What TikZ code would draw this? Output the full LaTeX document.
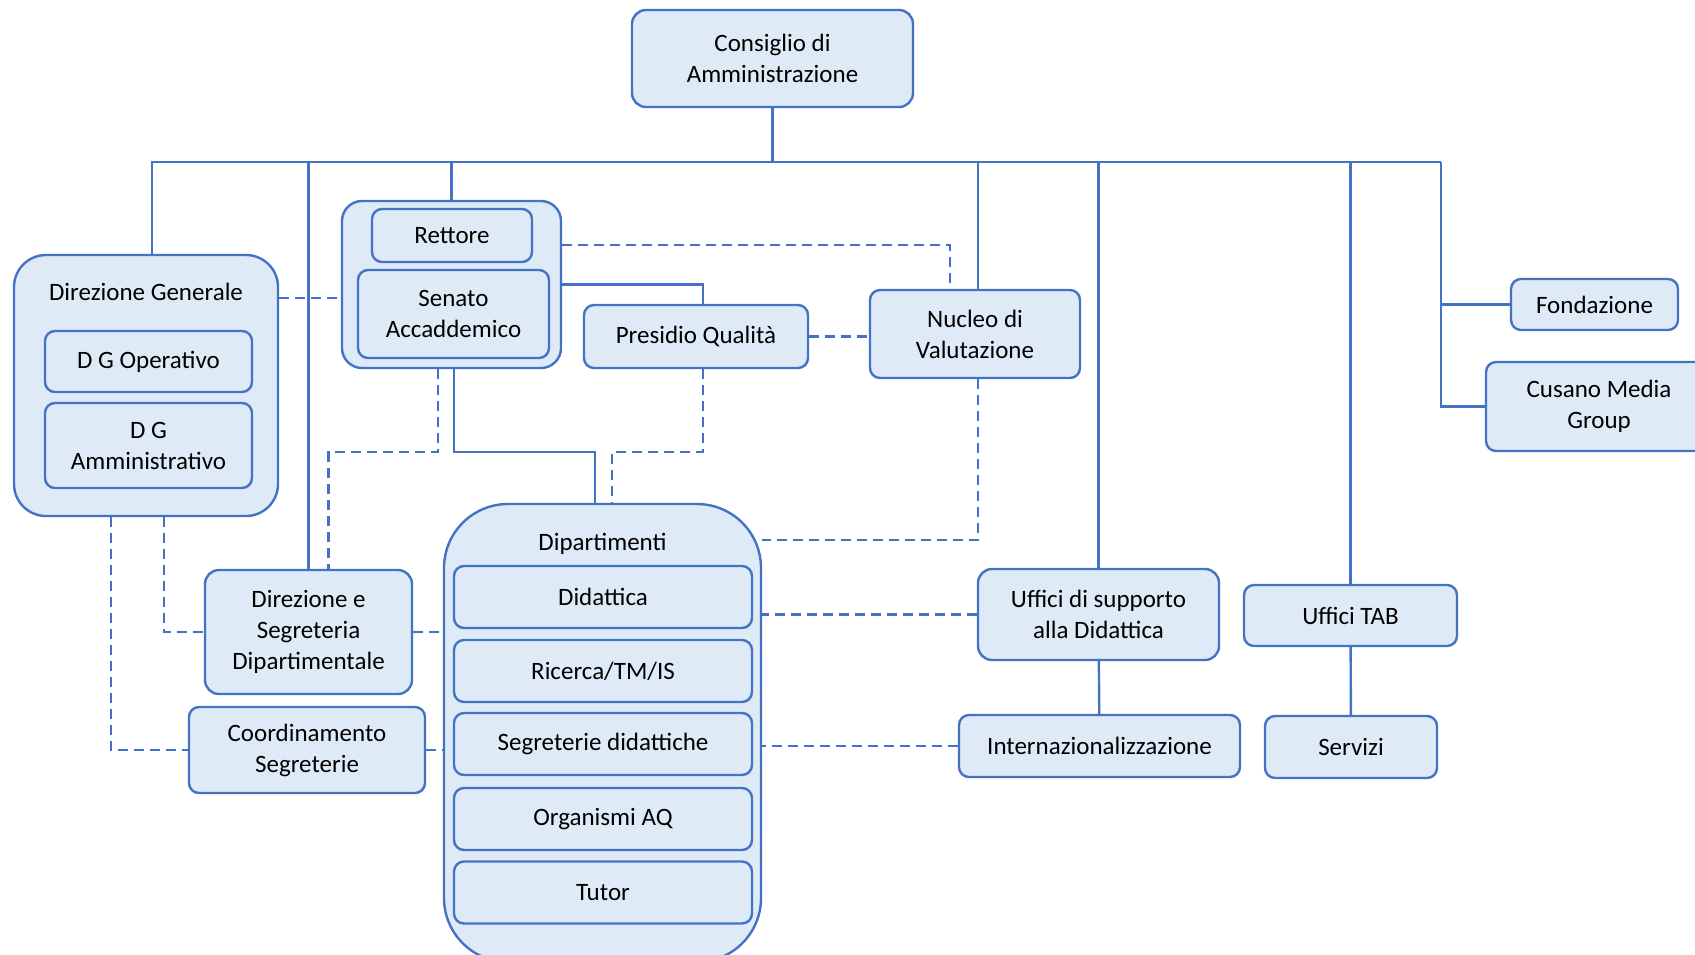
\documentclass[tikz,border=0pt]{standalone}
\usepackage{fontspec}
\setmainfont{Carlito}
\definecolor{orgline}{HTML}{4472C4}
\definecolor{orgfill}{HTML}{DEEBF7}
\tikzset{every picture/.append style={x=0.5pt, y=-0.5pt}}
\tikzset{
    box/.style={rectangle, rounded corners=5pt, draw=orgline, fill=orgfill,
        line width=1.2pt, align=center, inner sep=1pt,
        font=\fontsize{12.5}{15.5}\selectfont},
    grp/.style={box, rounded corners=16pt},
    lbl/.style={align=center, font=\fontsize{12.5}{15.5}\selectfont},
    link/.style={draw=orgline, line width=1.2pt},
    dlink/.style={link, dash pattern=on 5pt off 3pt}
}

\begin{document}
\begin{tikzpicture}
  \useasboundingbox (0,0) rectangle (1695,954);

  % top
  \node (cda) [box, rounded corners=7pt, minimum width=140.5pt, minimum height=48.5pt] at (772.5, 58.5) {Consiglio di\\Amministrazione};

  % direzione generale
  \node (dg) [grp, minimum width=132pt, minimum height=130.5pt] at (146, 385.5) {};
  \node (dgt) [lbl] at (146, 292) {Direzione Generale};
  \node (dgo) [box, minimum width=103.5pt, minimum height=30.5pt] at (148.5, 361.5) {D G Operativo};
  \node (dga) [box, minimum width=103.5pt, minimum height=42.5pt] at (148.5, 445.5) {D G\\Amministrativo};

  % rettore e senato
  \node (rs) [grp, rounded corners=10pt, minimum width=109.5pt, minimum height=83.5pt] at (451.5, 284.5) {};
  \node (rett) [box, minimum width=80pt, minimum height=26.5pt] at (452, 235.5) {Rettore};
  \node (sen) [box, minimum width=95.5pt, minimum height=44pt] at (453.5, 314) {Senato\\Accaddemico};

  \node (pq) [box, minimum width=112pt, minimum height=31.5pt] at (696, 336.5) {Presidio Qualità};
  \node (nv) [box, minimum width=105pt, minimum height=44pt] at (975, 334) {Nucleo di\\Valutazione};

  \node (fond) [box, minimum width=83.5pt, minimum height=25.5pt] at (1594.5, 304.5) {Fondazione};
  \node (cmg) [box, minimum width=113pt, minimum height=44.5pt] at (1599, 406.5) {Cusano Media\\Group};

  % dipartimenti
  \node (dip) [grp, rounded corners=32pt, minimum width=158.5pt, minimum height=229pt] at (602.5, 733) {};
  \node (dipt) [lbl] at (602.5, 544) {Dipartimenti};
  \node (did) [box, minimum width=149pt, minimum height=31pt] at (603, 597) {Didattica};
  \node (ric) [box, minimum width=149pt, minimum height=31pt] at (603, 671) {Ricerca/TM/IS};
  \node (sdid) [box, minimum width=149pt, minimum height=31pt] at (603, 744) {Segreterie didattiche};
  \node (oaq) [box, minimum width=149pt, minimum height=31pt] at (603, 819) {Organismi AQ};
  \node (tut) [box, minimum width=149pt, minimum height=31pt] at (603, 892.5) {Tutor};

  \node (dsd) [box, rounded corners=7pt, minimum width=103.5pt, minimum height=62pt] at (308.5, 632) {Direzione e\\Segreteria\\Dipartimentale};
  \node (cs) [box, minimum width=118pt, minimum height=43pt] at (307, 750) {Coordinamento\\Segreterie};

  \node (usd) [box, rounded corners=7pt, minimum width=120.5pt, minimum height=45.5pt] at (1098.5, 614.5) {Uffici di supporto\\alla Didattica};
  \node (tab) [box, minimum width=106.5pt, minimum height=30.5pt] at (1350.5, 615.5) {Uffici TAB};
  \node (int) [box, minimum width=140.5pt, minimum height=31pt] at (1099.5, 746) {Internazionalizzazione};
  \node (serv) [box, minimum width=86pt, minimum height=31pt] at (1351, 747) {Servizi};

  \coordinate (busR) at (1441, 162);

  % solid lines
  \draw [link] ([xshift=3pt]dg.north) |- (busR);
  \draw [link] (cda.south) -- (cda.south |- busR);
  \draw [link] (dsd.north) -- (dsd.north |- busR);
  \draw [link] (rs.north) -- (rs.north |- busR);
  \draw [link] ([xshift=1.5pt]nv.north) -- ([xshift=1.5pt]nv.north |- busR);
  \draw [link] (usd.north) -- (usd.north |- busR);
  \draw [link] (tab.north) -- (tab.north |- busR);
  \draw [link] (busR) |- (cmg.west);
  \draw [link] (busR |- fond.west) -- (fond.west);

  \draw [link] (rs.east) -| ([xshift=3.5pt]pq.north);
  \draw [link] ([xshift=1.25pt]rs.south) -- ++(0,83) -| ([xshift=-3.75pt]dip.north);
  \draw [link] (usd) -- (int);
  \draw [link] (tab) -- (serv);

  % dashed lines
  \draw [dlink] ([yshift=43.75pt]dg.east) -- ([yshift=-6.75pt]rs.west);
  \draw [dlink] ([yshift=19.75pt]rs.east) -| ([xshift=-12.5pt]nv.north);
  \draw [dlink] (pq.east) -- (pq.east -| nv.west);
  \draw [dlink] ([xshift=-6.75pt]rs.south) -- ++(0,83) -| ([xshift=10pt]dsd.north);
  \draw [dlink] ([xshift=3.5pt]pq.south) -- ++(0,83) -| ([xshift=4.75pt]dip.north);
  \draw [dlink] ([xshift=1.5pt]nv.south) |- ([yshift=96.5pt]dip.east);
  \draw [dlink] ([xshift=9pt]dg.south) |- (dsd.west);
  \draw [dlink] ([xshift=-17.5pt]dg.south) |- (cs.west);
  \draw [dlink] (dsd.east) -- (dsd.east -| dip.west);
  \draw [dlink] (cs.east) -- (cs.east -| dip.west);
  \draw [dlink] (usd.west) -- (usd.west -| dip.east);
  \draw [dlink] (int.west) -- (int.west -| dip.east);
\end{tikzpicture}
\end{document}
